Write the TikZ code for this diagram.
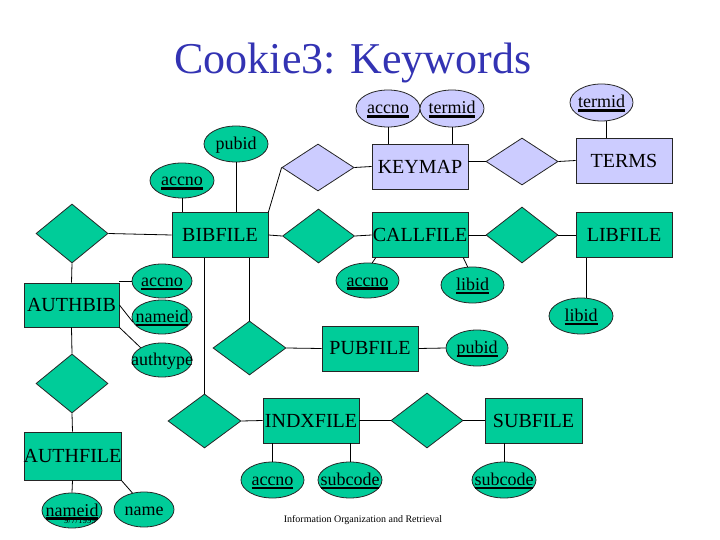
\documentclass[tikz,border=0pt]{standalone}
\usepackage{fontspec}
\setmainfont{Liberation Serif}
\usetikzlibrary{shapes.geometric}
\definecolor{grn}{HTML}{00CC99}
\definecolor{lav}{HTML}{CCCCFF}
\definecolor{ttl}{HTML}{3333B3}
\newcommand{\zw}[1]{\makebox[0pt][c]{#1}}
\newcommand{\ukey}[1]{\setbox0=\hbox{#1}\rlap{\vrule width \wd0 height -1.4pt depth 3.9pt}\box0}
\begin{document}
\begin{tikzpicture}[x=1pt,y=-1pt,
  ent/.style={draw=black!85, line width=0.8pt, rectangle, inner sep=0pt, minimum width=96pt, minimum height=45pt, font=\fontsize{20}{22}\selectfont},
  gent/.style={ent, fill=grn},
  lent/.style={ent, fill=lav},
  rel/.style={diamond, draw=black!85, line width=0.8pt, inner sep=0pt, minimum width=72pt, minimum height=54pt},
  grel/.style={rel, fill=grn},
  lrel/.style={rel, fill=lav, minimum height=47pt},
  attr/.style={ellipse, draw=black!85, line width=0.8pt, inner sep=0pt, minimum width=63pt, minimum height=36pt, text height=14pt, text depth=3pt, font=\fontsize{18}{20}\selectfont},
  gattr/.style={attr, fill=grn},
  lattr/.style={attr, fill=lav, minimum height=37pt},
  conn/.style={line width=0.8pt, draw=black}]
\useasboundingbox (0,0) rectangle (720,540);

% title
\node[anchor=base, text=ttl, font=\fontsize{44}{48}\selectfont, inner sep=0pt] (title) at (353,74) {Cookie3: Keywords};

% entities
\node[gent] (BIB) at (220,235) {BIBFILE};
\node[lent] (KEY) at (420,166.5) {KEYMAP};
\node[lent] (TERMS) at (624,160.5) {TERMS};
\node[gent] (CALL) at (420,235) {CALLFILE};
\node[gent] (LIB) at (624,235) {LIBFILE};
\node[gent, minimum width=95pt, minimum height=44pt] (AB) at (71.5,305) {\zw{AUTHBIB}};
\node[gent, minimum width=97pt, minimum height=48pt] (AF) at (72.5,456) {\zw{AUTHFILE}};
\node[gent] (PUB) at (370,348.5) {PUBFILE};
\node[gent] (INDX) at (311,420.5) {\zw{INDXFILE}};
\node[gent, minimum width=97pt] (SUB) at (533.5,420.5) {SUBFILE};

% relationships
\node[lrel] (dA) at (318,167.5) {};
\node[lrel] (dB) at (522,161.5) {};
\node[grel] (dC) at (318.5,236) {};
\node[grel, minimum height=56pt] (dD) at (522,235) {};
\node[grel, minimum height=59pt] (dL1) at (72,233.5) {};
\node[grel, minimum height=59pt] (dL2) at (72,383.5) {};
\node[grel, minimum width=73pt] (dP) at (249.5,348) {};
\node[grel, minimum width=73pt] (dI) at (204.5,421) {};
\node[grel, minimum height=55pt] (dS) at (427,420.5) {};

% attributes
\node[gattr, minimum width=64pt, minimum height=35pt] (bAcc) at (182,180.5) {\zw{\ukey{accno}}};
\node[gattr, minimum width=64pt] (bPub) at (236,144) {\zw{pubid}};
\node[lattr, minimum width=64pt] (kAcc) at (388,108.5) {\zw{\ukey{accno}}};
\node[lattr, minimum width=64pt] (kTerm) at (452,108.5) {\zw{\ukey{termid}}};
\node[lattr] (tTerm) at (601.5,102.5) {\zw{\ukey{termid}}};
\node[gattr, minimum width=60pt, minimum height=34pt] (aAcc) at (162,281) {\zw{\ukey{accno}}};
\node[gattr, minimum width=60pt, minimum height=34pt] (aName) at (162,317) {\zw{\ukey{nameid}}};
\node[gattr, minimum width=60pt, minimum height=34pt] (aType) at (162,360) {\zw{authtype}};
\node[gattr, minimum height=35pt] (cAcc) at (367.5,280.5) {\zw{\ukey{accno}}};
\node[gattr] (cLib) at (472.5,285) {\zw{\ukey{libid}}};
\node[gattr, minimum width=64pt] (lLib) at (581,316) {\zw{\ukey{libid}}};
\node[gattr, minimum width=62pt] (pPub) at (477,348) {\zw{\ukey{pubid}}};
\node[gattr] (iAcc) at (272.5,480) {\zw{\ukey{accno}}};
\node[gattr, minimum width=64pt] (iSub) at (350,480) {\zw{\ukey{subcode}}};
\node[gattr, minimum width=64pt] (sSub) at (504,480) {\zw{\ukey{subcode}}};
\node[gattr, minimum width=60pt, minimum height=35pt] (fName) at (72,510.5) {\zw{\ukey{nameid}}};
\node[gattr, minimum width=60pt, minimum height=35pt] (fNm) at (144,509.5) {\zw{name}};

% small texts
\node[font=\fontsize{9}{10}\selectfont, inner sep=0pt] (date) at (80,521) {9/7/1999};
\node[font=\fontsize{10}{11}\selectfont, inner sep=0pt] (foot) at (363,520) {Information Organization and Retrieval};

% connectors
\draw[conn] (bAcc.south) -- (bAcc.south |- BIB.north);
\draw[conn] (bPub.south) -- (bPub.south |- BIB.north);
\draw[conn] (BIB.north east) -- (dA.west);
\draw[conn] (dA.east) -- (KEY.west);
\draw[conn] (kAcc.south) -- (kAcc.south |- KEY.north);
\draw[conn] (kTerm.south) -- (kTerm.south |- KEY.north);
\draw[conn] (dB.west) -- (dB.west -| KEY.east);
\draw[conn] (dB.east) -- (TERMS.west);
\draw[conn] ([xshift=5pt]tTerm.south) -- ([xshift=5pt]tTerm.south |- TERMS.north);

\draw[conn] (BIB.east) -- (dC.west);
\draw[conn] (dC.east) -- (CALL.west);
\draw[conn] (CALL.east) -- (dD.west);
\draw[conn] (dD.east) -- (LIB.west);
\draw[conn] (BIB.west) -- (dL1.east);
\draw[conn] (dL1.south) -- (AB.north);
\draw[conn] (aAcc.west) -- (aAcc.west -| AB.east);
\draw[conn] (AB.east) -- (aName.190);
\draw[conn] (AB.south east) -- (aType.150);
\draw[conn] (AB.south) -- (dL2.north);
\draw[conn] (dL2.south) -- (AF.north);
\draw[conn] (AF.south) -- (fName.north);
\draw[conn] (AF.south east) -- (fNm.125);

\draw[conn] (dI.north |- BIB.south) -- (dI.north);
\draw[conn] (dP.north |- BIB.south) -- (dP.north);
\draw[conn] (dP.east) -- (PUB.west);
\draw[conn] (PUB.east) -- (pPub.west);
\draw[conn] ([xshift=4pt]CALL.south west) -- (cAcc.75);
\draw[conn] ([xshift=-5pt]CALL.south east) -- (cLib.105);
\draw[conn] ([xshift=5pt]lLib.north) -- ([xshift=5pt]lLib.north |- LIB.south);

\draw[conn] (dI.east) -- (INDX.west);
\draw[conn] (INDX.east) -- (dS.west);
\draw[conn] (dS.east) -- (SUB.west);
\draw[conn] (iAcc.north |- INDX.south) -- (iAcc.north);
\draw[conn] (iSub.north |- INDX.south) -- (iSub.north);
\draw[conn] (sSub.north |- SUB.south) -- (sSub.north);
\end{tikzpicture}
\end{document}
